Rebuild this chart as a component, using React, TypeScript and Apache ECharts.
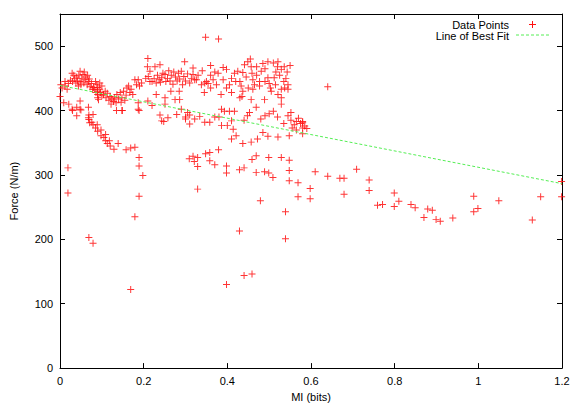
import React, { useEffect, useRef } from "react";
import * as echarts from "echarts";

// ---- Data ----
const xTicks = { min: 0, max: 1.2, interval: 0.2 };
const yTicks = { min: 0, max: 550, interval: 100 };

const leftBand: [number, number][] = [
  [0.005, 435], [0.012, 438], [0.017, 433], [0.02, 442], [0.025, 447], [0.029, 458], [0.03, 445],
  [0.035, 450], [0.038, 443], [0.04, 452], [0.042, 446], [0.045, 455], [0.048, 461], [0.048, 445],
  [0.05, 440], [0.052, 450], [0.055, 456], [0.057, 443], [0.06, 448], [0.062, 452], [0.065, 440],
  [0.068, 445], [0.07, 449], [0.072, 437], [0.075, 442], [0.078, 433], [0.044, 438], [0.033, 455],
  [0.058, 460], [0.066, 455], [0.0, 422], [0.009, 412], [0.021, 410], [0.029, 402], [0.04, 405],
  [0.048, 402], [0.068, 405], [0.068, 389], [0.076, 382], [0.048, 415], [0.012, 445], [0.002, 440],
];

const valley: [number, number][] = [
  [0.085, 445], [0.088, 440], [0.09, 436], [0.09, 430], [0.09, 425], [0.09, 420], [0.092, 417],
  [0.095, 443], [0.095, 433], [0.097, 428], [0.1, 438], [0.1, 423], [0.086, 428], [0.083, 433],
  [0.08, 436], [0.104, 425], [0.108, 430], [0.11, 420], [0.113, 427], [0.117, 416], [0.12, 422],
  [0.124, 418], [0.128, 414], [0.13, 420], [0.134, 412], [0.136, 425], [0.14, 418], [0.144, 428],
  [0.146, 413], [0.148, 420], [0.152, 430], [0.155, 416], [0.158, 424], [0.16, 435], [0.164, 438],
  [0.167, 428], [0.17, 433], [0.174, 425], [0.179, 448], [0.183, 440], [0.187, 448], [0.19, 438],
  [0.195, 443], [0.187, 402], [0.187, 412], [0.148, 400], [0.122, 410], [0.135, 400],
];

const descendingArm: [number, number][] = [
  [0.04, 392], [0.069, 393], [0.079, 394], [0.069, 386], [0.071, 381], [0.079, 378], [0.089, 378],
  [0.09, 368], [0.098, 370], [0.098, 361], [0.109, 363], [0.109, 353], [0.118, 353], [0.12, 345],
  [0.129, 340], [0.139, 349], [0.158, 339], [0.169, 342], [0.179, 343], [0.085, 373], [0.105, 358],
  [0.113, 349],
];

const leftSparse: [number, number][] = [
  [0.019, 311], [0.019, 272], [0.069, 203], [0.079, 194], [0.169, 122], [0.179, 235], [0.189, 267],
  [0.198, 299], [0.189, 314], [0.189, 327], [0.03, 400], [0.05, 401], [0.149, 400], [0.189, 400],
  [0.239, 393], [0.248, 383],
];

const upperMid: [number, number][] = [
  [0.21, 481], [0.209, 468], [0.211, 453], [0.215, 461], [0.22, 445], [0.225, 450], [0.227, 468],
  [0.23, 443], [0.233, 455], [0.237, 448], [0.239, 471], [0.24, 444], [0.243, 451], [0.246, 458],
  [0.251, 456], [0.253, 445], [0.257, 450], [0.26, 462], [0.263, 446], [0.266, 455], [0.27, 441],
  [0.272, 460], [0.276, 452], [0.28, 446], [0.283, 458], [0.286, 449], [0.29, 461], [0.293, 440],
  [0.296, 453], [0.298, 476], [0.3, 446], [0.305, 457], [0.31, 443], [0.314, 450], [0.318, 466],
  [0.318, 456], [0.322, 448], [0.326, 448], [0.205, 450], [0.215, 445], [0.251, 420], [0.251, 410],
  [0.258, 389], [0.243, 384], [0.275, 417], [0.286, 417], [0.279, 394], [0.3, 387], [0.305, 397],
  [0.31, 379], [0.265, 430], [0.285, 430], [0.23, 425], [0.21, 415], [0.22, 408],
];

const upperRight: [number, number][] = [
  [0.338, 440], [0.346, 443], [0.354, 442], [0.35, 445], [0.366, 448], [0.39, 467], [0.398, 464],
  [0.378, 458], [0.39, 448], [0.374, 440], [0.398, 435], [0.417, 458], [0.425, 461], [0.437, 459],
  [0.43, 445], [0.433, 438], [0.437, 430], [0.435, 422], [0.43, 420], [0.441, 471], [0.449, 476],
  [0.457, 468], [0.459, 458], [0.461, 448], [0.461, 433], [0.457, 417], [0.485, 473], [0.497, 476],
  [0.51, 474], [0.521, 476], [0.481, 461], [0.477, 445], [0.477, 438], [0.497, 451], [0.5, 442],
  [0.503, 435], [0.505, 430], [0.512, 451], [0.516, 460], [0.52, 468], [0.525, 455], [0.529, 464],
  [0.529, 433], [0.537, 435], [0.545, 433], [0.521, 425], [0.529, 420], [0.536, 468], [0.529, 410],
  [0.489, 417], [0.469, 405], [0.47, 455], [0.465, 440], [0.49, 465], [0.445, 452], [0.41, 450],
  [0.405, 440], [0.42, 445], [0.36, 435], [0.345, 428], [0.385, 425], [0.41, 428], [0.45, 435],
  [0.49, 445], [0.54, 450], [0.545, 440], [0.55, 470], [0.543, 460], [0.535, 445], [0.515, 440],
  [0.47, 468], [0.455, 480], [0.33, 455], [0.34, 462], [0.36, 470], [0.37, 460], [0.36, 455],
];

const lowerBand: [number, number][] = [
  [0.29, 402], [0.3, 390], [0.31, 393], [0.322, 387], [0.334, 391], [0.346, 382], [0.358, 382],
  [0.37, 390], [0.38, 390], [0.386, 402], [0.393, 399], [0.405, 399], [0.417, 399], [0.386, 377],
  [0.4, 377], [0.41, 384], [0.414, 371], [0.44, 385], [0.448, 392], [0.453, 397], [0.421, 361],
  [0.41, 356], [0.437, 349], [0.457, 351], [0.472, 356], [0.485, 366], [0.497, 360], [0.521, 359],
  [0.48, 387], [0.49, 392], [0.5, 395], [0.51, 399], [0.52, 390], [0.545, 392], [0.552, 397],
  [0.552, 385], [0.56, 378], [0.565, 383], [0.57, 388], [0.575, 380], [0.58, 381], [0.58, 383],
  [0.58, 373], [0.58, 364], [0.59, 372], [0.585, 376], [0.548, 361], [0.565, 370], [0.555, 373],
  [0.535, 380],
];

const midSparse: [number, number][] = [
  [0.318, 329], [0.309, 325], [0.321, 321], [0.329, 327], [0.329, 313], [0.329, 278], [0.348, 333],
  [0.358, 335], [0.379, 339], [0.358, 322], [0.37, 316], [0.398, 314], [0.398, 303], [0.429, 308],
  [0.44, 311], [0.459, 324], [0.469, 330], [0.499, 327], [0.529, 327], [0.548, 323], [0.469, 304],
  [0.489, 305], [0.499, 303], [0.509, 296], [0.548, 307], [0.548, 291], [0.569, 288], [0.61, 305],
  [0.64, 298], [0.598, 279], [0.569, 266], [0.598, 263], [0.479, 260], [0.539, 243], [0.539, 201],
  [0.429, 213], [0.44, 144], [0.459, 146], [0.398, 130], [0.348, 514], [0.379, 511], [0.64, 437],
];

const tail: [number, number][] = [
  [0.669, 295], [0.679, 295], [0.709, 309], [0.679, 270], [0.739, 292], [0.739, 276], [0.759, 253],
  [0.771, 254], [0.799, 272], [0.799, 251], [0.81, 259], [0.839, 254], [0.849, 249], [0.87, 234],
  [0.879, 247], [0.89, 245], [0.899, 231], [0.909, 228], [0.939, 233], [0.989, 267], [0.989, 243],
  [0.999, 248], [1.049, 260], [1.129, 230], [1.149, 266], [1.199, 290], [1.199, 266],
];

const fitX = [0, 1.2];
const fitY = [439, 286.5];

const seriesNames = ["Data Points", "Line of Best Fit"];

const PLUS =
  "path://M-0.14,-1H0.14V-0.14H1V0.14H0.14V1H-0.14V0.14H-1V-0.14H-0.14Z";

const FONT = "'Liberation Sans', Arial, Helvetica, sans-serif";

export default function App() {
  const ref = useRef<HTMLDivElement>(null);
  useEffect(() => {
    if (!ref.current) return;
    const chart = echarts.init(ref.current, undefined, { renderer: "svg" });
    const points = [
      ...leftBand, ...valley, ...descendingArm, ...leftSparse, ...upperMid,
      ...upperRight, ...lowerBand, ...midSparse, ...tail,
    ];
    const axisLine = { show: true, onZero: false, lineStyle: { color: "#000", width: 1 } };
    const axisTick = { show: true, inside: true, length: 5, lineStyle: { color: "#000", width: 1 } };
    const label = { fontSize: 11, color: "#000", fontFamily: FONT };
    chart.setOption({
      animation: false,
      backgroundColor: "#fff",
      grid: { left: 58, right: 19, top: 14, bottom: 34, containLabel: false },
      legend: { show: false },
      xAxis: [
        {
          type: "value", ...xTicks, position: "bottom",
          axisLine, axisTick, splitLine: { show: false },
          axisLabel: { ...label, margin: 7 },
          name: "MI (bits)", nameLocation: "middle", nameGap: 17,
          nameTextStyle: { ...label },
        },
        {
          type: "value", ...xTicks, position: "top",
          axisLine, axisTick, splitLine: { show: false }, axisLabel: { show: false },
        },
      ],
      yAxis: [
        {
          type: "value", ...yTicks, position: "left",
          axisLine, axisTick, splitLine: { show: false },
          axisLabel: { ...label, margin: 7, showMaxLabel: false },
          name: "Force (N/m)", nameLocation: "middle", nameGap: 41,
          nameTextStyle: { ...label },
        },
        {
          type: "value", ...yTicks, position: "right",
          axisLine, axisTick, splitLine: { show: false }, axisLabel: { show: false },
        },
      ],
      series: [
        {
          name: seriesNames[0],
          type: "scatter",
          data: points,
          symbol: PLUS,
          symbolSize: 7,
          itemStyle: { color: "#ff1010", opacity: 0.85 },
          z: 2,
        },
        {
          name: seriesNames[1],
          type: "line",
          data: fitX.map((x, i) => [x, fitY[i]]),
          symbol: "none",
          lineStyle: { color: "#55ee55", width: 1, type: [3, 2] },
          z: 3,
        },
      ],
      graphic: [
        {
          type: "text", x: 509, y: 24.5,
          style: { text: seriesNames[0], align: "right", verticalAlign: "middle", fontSize: 11, fontFamily: FONT, fill: "#000" },
        },
        {
          type: "text", x: 509, y: 35.5,
          style: { text: seriesNames[1], align: "right", verticalAlign: "middle", fontSize: 11, fontFamily: FONT, fill: "#000" },
        },
        { type: "line", shape: { x1: 529, y1: 24.5, x2: 536, y2: 24.5 }, style: { stroke: "#ff1010", lineWidth: 1 } },
        { type: "line", shape: { x1: 532.5, y1: 21, x2: 532.5, y2: 28 }, style: { stroke: "#ff1010", lineWidth: 1 } },
        { type: "line", shape: { x1: 516, y1: 35, x2: 549, y2: 35 }, style: { stroke: "#55ee55", lineWidth: 1, lineDash: [3, 2] } },
      ],
    });
    return () => chart.dispose();
  }, []);
  return (
    <div
      ref={ref}
      style={{ position: "fixed", left: 0, top: 0, width: 581, height: 407, background: "#fff" }}
    />
  );
}
